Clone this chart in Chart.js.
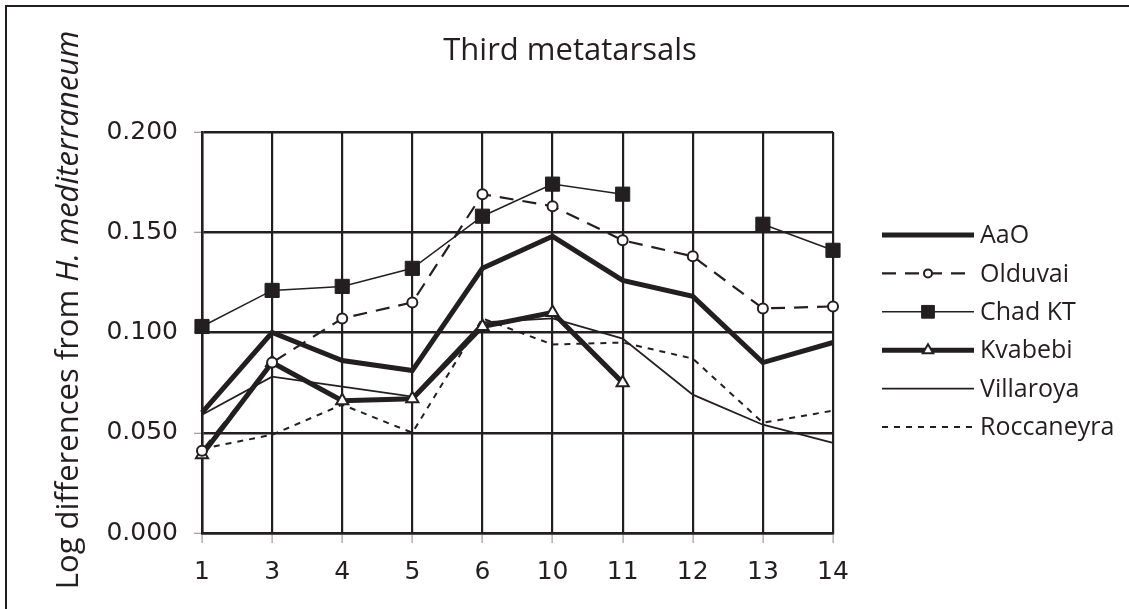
<!DOCTYPE html>
<html>
<head>
<meta charset="utf-8">
<script src="https://cdn.jsdelivr.net/npm/chart.js@4.4.1/dist/chart.umd.min.js"></script>
<style>
  html, body { margin: 0; padding: 0; background: #fff; }
  #wrap { position: relative; width: 1129px; height: 609px; overflow: hidden; }
  #frame {
    position: absolute; left: 5px; top: 5px; width: 1200px; height: 700px;
    border-top: 2.5px solid #231f20; border-left: 2.5px solid #231f20;
  }
  #myChart { position: absolute; left: 0; top: 0; }
</style>
</head>
<body>
<div id="wrap">
  <div id="frame"></div>
  <canvas id="myChart" width="1129" height="609"></canvas>
</div>
<script>
// metatarsal sections along the x axis
const categories = ["1", "3", "4", "5", "6", "10", "11", "12", "13", "14"];

const aao        = [0.060, 0.100, 0.086, 0.081, 0.132, 0.148, 0.126, 0.118, 0.085, 0.095];
const olduvai    = [0.041, 0.085, 0.107, 0.115, 0.169, 0.163, 0.146, 0.138, 0.112, 0.113];
const chadKT     = [0.103, 0.121, 0.123, 0.132, 0.158, 0.174, 0.169, null, 0.154, 0.141];
const kvabebi    = [0.039, 0.085, 0.066, 0.067, 0.103, 0.110, 0.075, null, null, null];
const villaroya  = [0.059, 0.078, 0.073, 0.068, 0.105, 0.107, 0.097, 0.069, 0.054, 0.045];
const roccaneyra = [0.042, 0.049, 0.064, 0.050, 0.107, 0.094, 0.095, 0.087, 0.055, 0.061];

const yTicks = [0, 0.05, 0.1, 0.15, 0.2];

const ink = "#231f20";

const decorations = {
    id: "decorations",
    afterDraw(chart) {
        const ctx = chart.ctx;
        ctx.save();
        ctx.fillStyle = ink;

        // title
        ctx.font = "31px 'Open Sans', sans-serif";
        ctx.textAlign = "center";
        ctx.textBaseline = "alphabetic";
        ctx.fillText("Third metatarsals", 570, 60);

        // y axis title, mixed italic
        ctx.save();
        ctx.translate(78, 310);
        ctx.rotate(-Math.PI / 2);
        const partA = "Log differences from ";
        const partB = "H. mediterraneum";
        ctx.font = "31px 'Open Sans', sans-serif";
        const wA = ctx.measureText(partA).width;
        ctx.font = "italic 31px 'Open Sans', sans-serif";
        const wB = ctx.measureText(partB).width;
        let x0 = -(wA + wB) / 2;
        ctx.textAlign = "left";
        ctx.font = "31px 'Open Sans', sans-serif";
        ctx.fillText(partA, x0, 0);
        ctx.font = "italic 31px 'Open Sans', sans-serif";
        ctx.fillText(partB, x0 + wA, 0);
        ctx.restore();

        // legend
        const lx0 = 882, lx1 = 974, tx = 980;
        chart.data.datasets.forEach((ds, i) => {
            const y = 235 + i * 38.4;
            ctx.save();
            ctx.strokeStyle = ds.borderColor;
            ctx.lineWidth = ds.borderWidth;
            ctx.setLineDash(ds.borderDash || []);
            ctx.beginPath();
            ctx.moveTo(lx0, y);
            ctx.lineTo(lx1, y);
            ctx.stroke();
            ctx.restore();
            if (ds.pointRadius > 0) {
                ctx.save();
                ctx.fillStyle = ds.pointBackgroundColor;
                ctx.strokeStyle = ds.pointBorderColor;
                ctx.lineWidth = ds.pointBorderWidth;
                Chart.helpers.drawPoint(ctx, {
                    pointStyle: ds.pointStyle,
                    radius: ds.legendRadius,
                    borderWidth: ds.pointBorderWidth,
                    rotation: 0
                }, (lx0 + lx1) / 2, y);
                ctx.restore();
            }
            ctx.fillStyle = ink;
            ctx.font = "25px 'Open Sans', sans-serif";
            ctx.textAlign = "left";
            ctx.textBaseline = "middle";
            ctx.fillText(ds.label, tx, y + 1);
        });
        ctx.restore();
    }
};

const ctx = document.getElementById("myChart").getContext("2d");

new Chart(ctx, {
    type: "line",
    data: {
        labels: categories,
        datasets: [
            {
                label: "AaO", data: aao,
                borderColor: ink, borderWidth: 5, pointRadius: 0
            },
            {
                label: "Olduvai", data: olduvai,
                borderColor: ink, borderWidth: 2.2, borderDash: [14, 9],
                pointStyle: "circle", pointRadius: 5, legendRadius: 4,
                pointBackgroundColor: "#fff", pointBorderColor: ink, pointBorderWidth: 2
            },
            {
                label: "Chad KT", data: chadKT,
                borderColor: ink, borderWidth: 1.5,
                pointStyle: "rect", pointRadius: 10, legendRadius: 9,
                pointBackgroundColor: ink, pointBorderColor: ink, pointBorderWidth: 1
            },
            {
                label: "Kvabebi", data: kvabebi,
                borderColor: ink, borderWidth: 5,
                pointStyle: "triangle", pointRadius: 7, legendRadius: 6,
                pointBackgroundColor: "#fff", pointBorderColor: ink, pointBorderWidth: 2
            },
            {
                label: "Villaroya", data: villaroya,
                borderColor: ink, borderWidth: 1.8, pointRadius: 0
            },
            {
                label: "Roccaneyra", data: roccaneyra,
                borderColor: ink, borderWidth: 2, borderDash: [6, 6], pointRadius: 0
            }
        ]
    },
    options: {
        responsive: false,
        animation: false,
        spanGaps: false,
        layout: { padding: { left: 0, right: 296, top: 132, bottom: 0 } },
        plugins: {
            legend: { display: false },
            title: { display: false },
            tooltip: { enabled: false }
        },
        scales: {
            x: {
                type: "category",
                offset: false,
                afterFit(scale) { scale.height = 76; },
                grid: {
                    color: ink, lineWidth: 2.2,
                    tickColor: "#888", tickWidth: 1, tickLength: 10
                },
                border: { color: ink, width: 2.5 },
                ticks: {
                    color: ink, padding: 14,
                    font: { family: "'DejaVu Sans', sans-serif", size: 25 },
                    maxRotation: 0, autoSkip: false
                }
            },
            y: {
                min: 0, max: 0.2,
                afterFit(scale) { scale.width = 202; },
                afterBuildTicks(scale) { scale.ticks = yTicks.map(v => ({ value: v })); },
                grid: {
                    color: ink, lineWidth: 2.5,
                    tickColor: "#888", tickWidth: 1, tickLength: 8
                },
                border: { color: ink, width: 2.5 },
                ticks: {
                    color: ink, padding: 16,
                    font: { family: "'DejaVu Sans', sans-serif", size: 25 },
                    callback: v => v.toFixed(3)
                }
            }
        }
    },
    plugins: [decorations]
});
</script>
</body>
</html>
